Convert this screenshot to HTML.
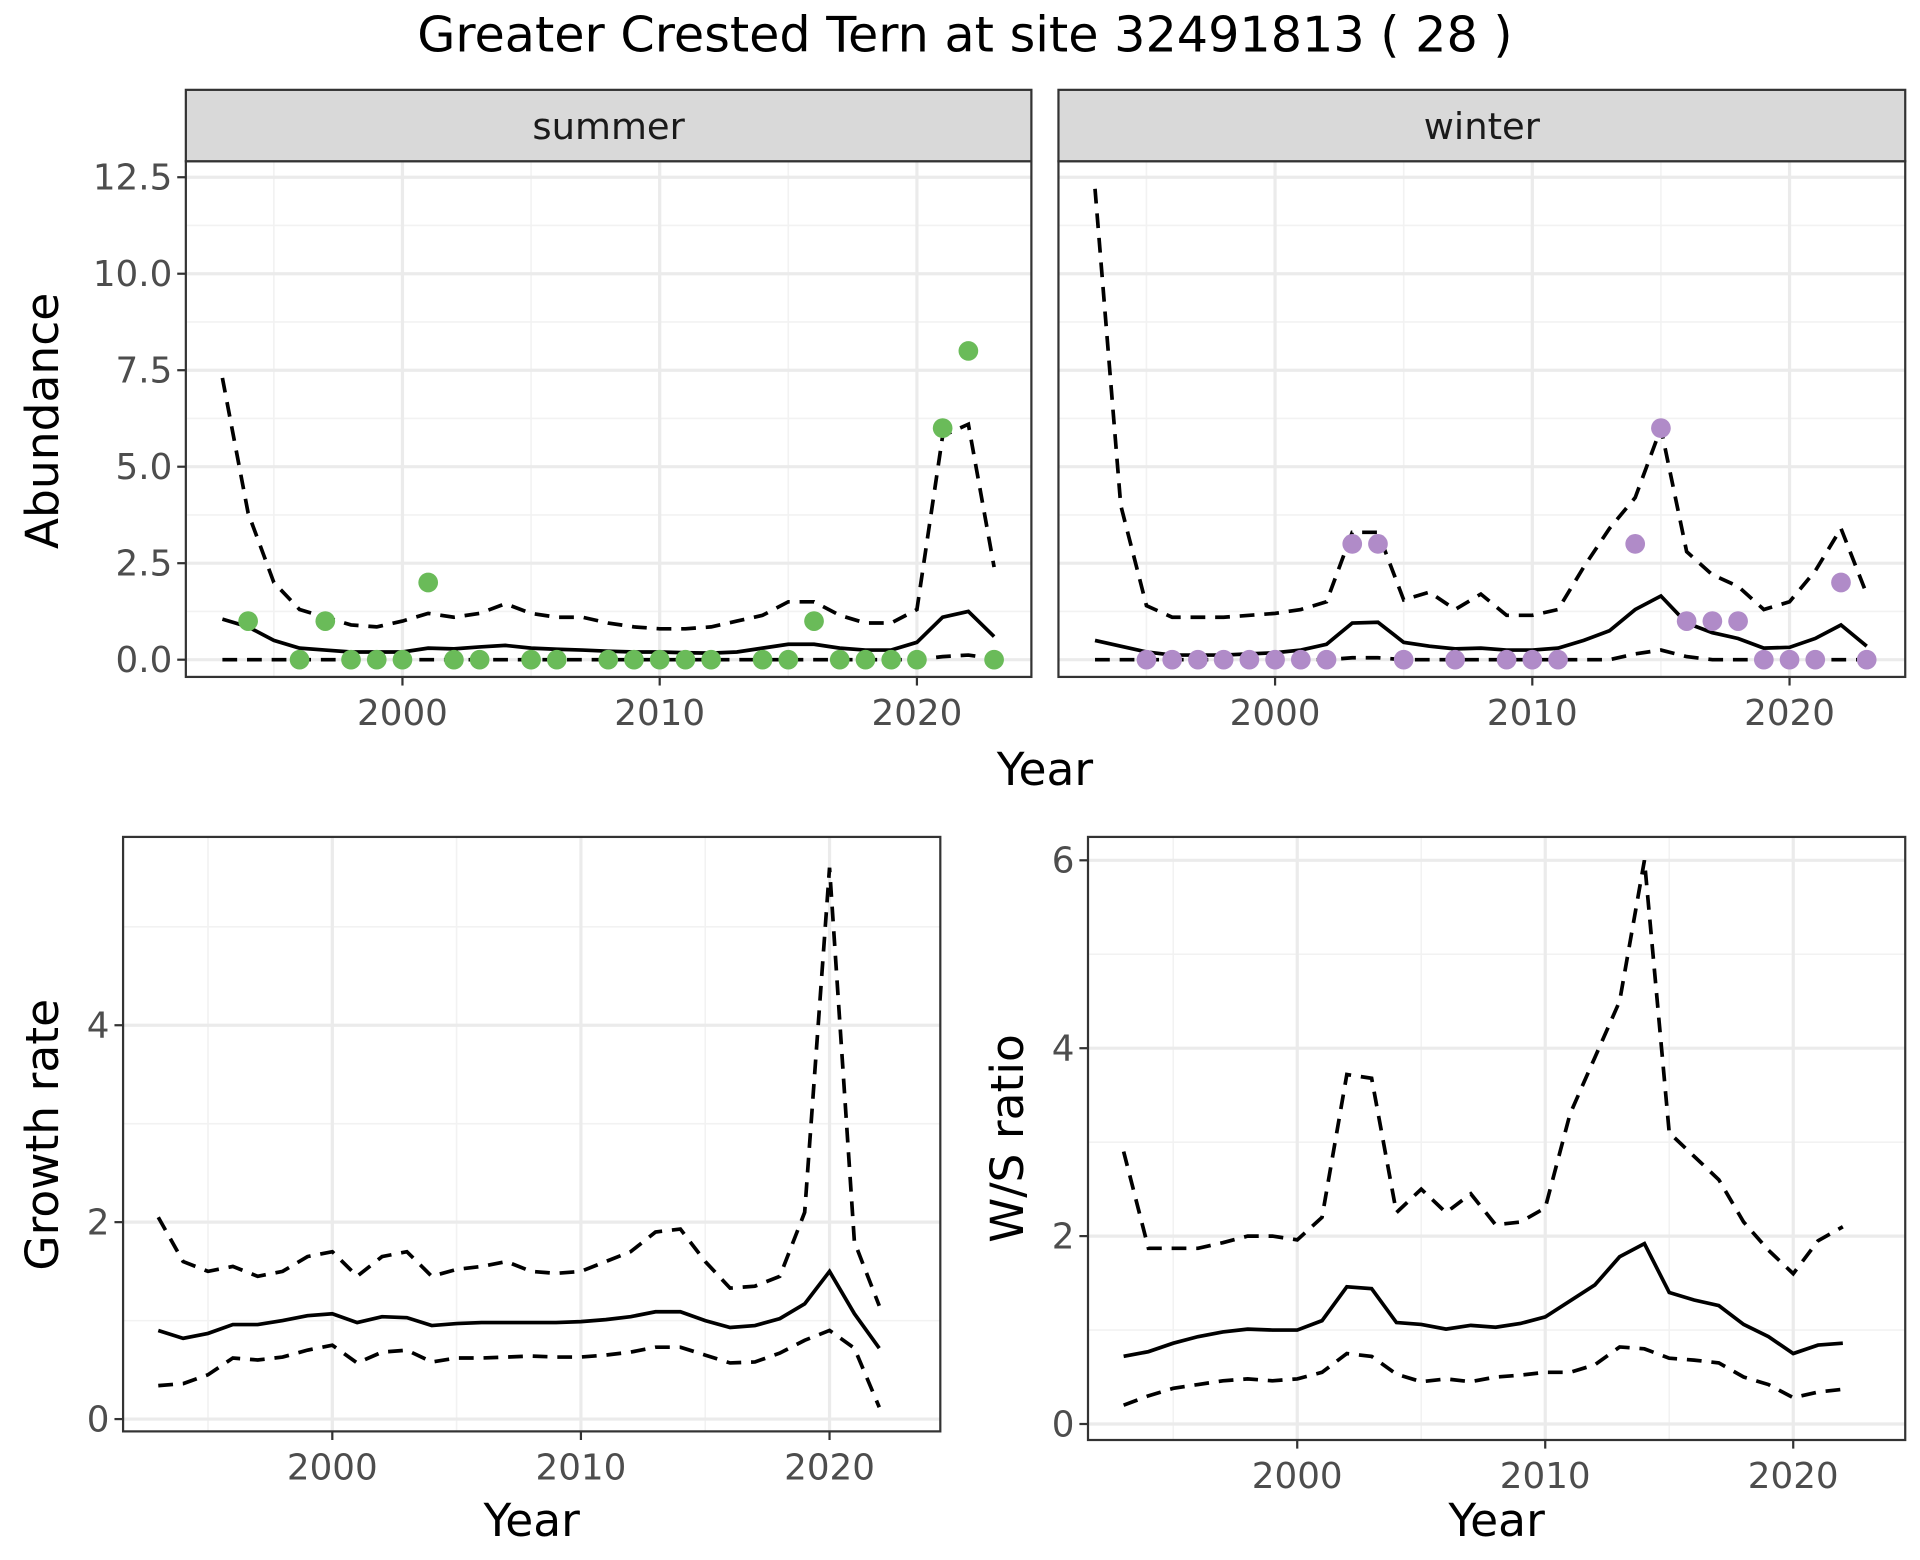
<!DOCTYPE html>
<html><head><meta charset="utf-8"><style>
html,body{margin:0;padding:0;background:#fff;}
svg{display:block;font-family:"DejaVu Sans","Liberation Sans",sans-serif;}
</style></head><body>
<svg id="chart" width="1920" height="1560" viewBox="0 0 1560 1267.5" preserveAspectRatio="none" xmlns="http://www.w3.org/2000/svg">
<text x="784" y="42" font-size="40" text-anchor="middle" fill="#000">Greater Crested Tern at site 32491813 ( 28 )</text>
</svg>
<script>
const yearsA = [1993,1994,1995,1996,1997,1998,1999,2000,2001,2002,2003,2004,2005,2006,2007,2008,2009,2010,2011,2012,2013,2014,2015,2016,2017,2018,2019,2020,2021,2022,2023];
const summerMean = [1.05,0.85,0.5,0.3,0.25,0.2,0.2,0.2,0.3,0.28,0.33,0.37,0.3,0.27,0.25,0.22,0.2,0.2,0.18,0.17,0.2,0.3,0.4,0.4,0.3,0.25,0.25,0.45,1.1,1.25,0.6];
const summerUpper = [7.3,3.8,2.0,1.3,1.1,0.9,0.85,1.0,1.2,1.1,1.2,1.45,1.2,1.1,1.1,0.95,0.85,0.8,0.8,0.85,1.0,1.15,1.5,1.5,1.15,0.95,0.95,1.3,5.8,6.1,2.4];
const summerLower = [0,0,0,0,0,0,0,0,0,0,0,0,0,0,0,0,0,0,0,0,0,0,0,0,0,0,0,0,0.08,0.12,0.02];
const summerPtYears = [1994,1996,1997,1998,1999,2000,2001,2002,2003,2005,2006,2008,2009,2010,2011,2012,2014,2015,2016,2017,2018,2019,2020,2021,2022,2023];
const summerPtVals = [1,0,1,0,0,0,2,0,0,0,0,0,0,0,0,0,0,0,1,0,0,0,0,6,8,0];
const winterMean = [0.5,0.35,0.2,0.12,0.12,0.12,0.15,0.18,0.25,0.4,0.95,0.97,0.45,0.35,0.28,0.3,0.25,0.25,0.3,0.5,0.75,1.3,1.65,0.95,0.7,0.55,0.3,0.32,0.55,0.9,0.35];
const winterUpper = [12.2,4.0,1.4,1.1,1.1,1.1,1.15,1.2,1.3,1.5,3.3,3.3,1.55,1.75,1.3,1.7,1.15,1.15,1.3,2.4,3.4,4.2,6.0,2.8,2.2,1.9,1.3,1.5,2.3,3.4,1.7];
const winterLower = [0,0,0,0,0,0,0,0,0,0,0.05,0.05,0,0,0,0,0,0,0,0,0,0.15,0.25,0.08,0,0,0,0,0,0,0];
const winterPtYears = [1995,1996,1997,1998,1999,2000,2001,2002,2003,2004,2005,2007,2009,2010,2011,2014,2015,2016,2017,2018,2019,2020,2021,2022,2023];
const winterPtVals = [0,0,0,0,0,0,0,0,3,3,0,0,0,0,0,3,6,1,1,1,0,0,0,2,0];
const yearsB = [1993,1994,1995,1996,1997,1998,1999,2000,2001,2002,2003,2004,2005,2006,2007,2008,2009,2010,2011,2012,2013,2014,2015,2016,2017,2018,2019,2020,2021,2022];
const growthMean = [0.9,0.82,0.87,0.96,0.96,1.0,1.05,1.07,0.98,1.04,1.03,0.95,0.97,0.98,0.98,0.98,0.98,0.99,1.01,1.04,1.09,1.09,1.0,0.93,0.95,1.02,1.17,1.5,1.07,0.72];
const growthUpper = [2.05,1.6,1.5,1.55,1.45,1.5,1.65,1.7,1.45,1.65,1.7,1.45,1.52,1.55,1.6,1.5,1.48,1.5,1.6,1.7,1.9,1.93,1.6,1.33,1.35,1.45,2.1,5.6,1.8,1.15];
const growthLower = [0.34,0.36,0.45,0.62,0.6,0.63,0.7,0.75,0.57,0.68,0.7,0.58,0.62,0.62,0.63,0.64,0.63,0.63,0.65,0.68,0.73,0.73,0.65,0.57,0.58,0.67,0.8,0.9,0.72,0.12];
const ratioMean = [0.72,0.77,0.86,0.93,0.98,1.01,1.0,1.0,1.1,1.46,1.44,1.08,1.06,1.01,1.05,1.03,1.07,1.14,1.31,1.48,1.78,1.92,1.4,1.32,1.26,1.06,0.93,0.75,0.84,0.86];
const ratioUpper = [2.9,1.87,1.87,1.87,1.93,2.0,2.0,1.96,2.2,3.72,3.68,2.25,2.5,2.25,2.45,2.12,2.15,2.3,3.3,3.9,4.5,6.0,3.1,2.85,2.6,2.15,1.85,1.6,1.95,2.1];
const ratioLower = [0.2,0.3,0.38,0.42,0.46,0.48,0.46,0.48,0.55,0.75,0.72,0.53,0.45,0.48,0.45,0.5,0.52,0.55,0.55,0.63,0.82,0.8,0.7,0.68,0.65,0.5,0.42,0.28,0.34,0.37];
const xTicks = [2000,2010,2020];
const xMinor = [1995,2005,2015];
const abTicks = [0,2.5,5,7.5,10,12.5];
const abTickLabels = ["0.0","2.5","5.0","7.5","10.0","12.5"];
const abMinor = [1.25,3.75,6.25,8.75,11.25];
const grTicks = [0,2,4];
const grMinor = [1,3,5];
const raTicks = [0,2,4,6];
const raMinor = [1,3,5];

const NS = "http://www.w3.org/2000/svg";
const svg = document.getElementById('chart');
function mk(tag, attrs, parent){const e=document.createElementNS(NS,tag);for(const k in attrs)e.setAttribute(k,attrs[k]);(parent||svg).appendChild(e);return e;}

function panel(o){
  const g = mk('g',{});
  
  
  const sx = v => o.x0 + (v-o.xa)*(o.x1-o.x0)/(o.xb-o.xa);
  const sy = v => o.y0 + (v-o.ya)*(o.y1-o.y0)/(o.yb-o.ya);
  mk('rect',{x:o.L,y:o.T,width:o.R-o.L,height:o.B-o.T,fill:'#fff'},g);
  o.yMinor.forEach(v=>mk('line',{x1:o.L,x2:o.R,y1:sy(v),y2:sy(v),stroke:'#f2f2f2','stroke-width':1.3},g));
  xMinor.forEach(v=>mk('line',{x1:sx(v),x2:sx(v),y1:o.T,y2:o.B,stroke:'#f2f2f2','stroke-width':1.3},g));
  o.yTicks.forEach(v=>mk('line',{x1:o.L,x2:o.R,y1:sy(v),y2:sy(v),stroke:'#ebebeb','stroke-width':2.6},g));
  xTicks.forEach(v=>mk('line',{x1:sx(v),x2:sx(v),y1:o.T,y2:o.B,stroke:'#ebebeb','stroke-width':2.6},g));
  const line=(xs,ys,dash,nm)=>{const p=mk('polyline',{points:xs.map((x,i)=>sx(x)+','+sy(ys[i])).join(' '),fill:'none',stroke:'#000','stroke-width':3,'stroke-dasharray':dash?'12,8':'none'},g);
    
    };
  o.series.forEach(s=>line(o.xs,s.v,s.dash,s.name));
  if(o.pts){o.pts.y.forEach((yr,i)=>{const c=mk('circle',{cx:sx(yr),cy:sy(o.pts.v[i]),r:8,fill:o.pts.col},g);
    
    });}
  mk('rect',{x:o.L,y:o.T,width:o.R-o.L,height:o.B-o.T,fill:'none',stroke:'#333','stroke-width':1.8},g);
  xTicks.forEach(v=>{mk('line',{x1:sx(v),x2:sx(v),y1:o.B,y2:o.B+7,stroke:'#333','stroke-width':1.8},g);
    const t=mk('text',{x:sx(v),y:o.B+39,'font-size':29,'text-anchor':'middle',fill:'#4d4d4d'},g);t.textContent=v;
    
    });
  if(o.yLabels){o.yTicks.forEach((v,i)=>{mk('line',{x1:o.L-7,x2:o.L,y1:sy(v),y2:sy(v),stroke:'#333','stroke-width':1.8},g);
    const t=mk('text',{x:o.L-11,y:sy(v)+10,'font-size':29,'text-anchor':'end',fill:'#4d4d4d'},g);t.textContent=o.yLabels[i];
    
    });}
  if(o.strip){const r=mk('rect',{x:o.L,y:73,width:o.R-o.L,height:58,fill:'#d9d9d9',stroke:'#333','stroke-width':1.8},g);
    
    
    const t=mk('text',{x:(o.L+o.R)/2,y:113,'font-size':30,'text-anchor':'middle',fill:'#1a1a1a'},g);t.textContent=o.strip;
    
    }
}
function label(txt,x,y,rot,nm){const t=mk('text',{x:x,y:y,'font-size':37,'text-anchor':'middle',fill:'#000',transform:rot?`rotate(-90 ${x} ${y})`:''});t.textContent=txt;
  
  }

panel({name:'summer-panel',L:151,R:838,T:131,B:550,x0:327,x1:745,xa:2000,xb:2020,y0:536,y1:144,ya:0,yb:12.5,
  yTicks:abTicks,yLabels:abTickLabels,yMinor:abMinor,xs:yearsA,strip:'summer',
  series:[{v:summerUpper,dash:true,name:'summer-upper-ci'},{v:summerLower,dash:true,name:'summer-lower-ci'},{v:summerMean,dash:false,name:'summer-mean'}],
  pts:{y:summerPtYears,v:summerPtVals,col:'#6abb59'}});
panel({name:'winter-panel',L:860,R:1548,T:131,B:550,x0:1036,x1:1454,xa:2000,xb:2020,y0:536,y1:144,ya:0,yb:12.5,
  yTicks:abTicks,yLabels:null,yMinor:abMinor,xs:yearsA,strip:'winter',
  series:[{v:winterUpper,dash:true,name:'winter-upper-ci'},{v:winterLower,dash:true,name:'winter-lower-ci'},{v:winterMean,dash:false,name:'winter-mean'}],
  pts:{y:winterPtYears,v:winterPtVals,col:'#b08bc8'}});
panel({name:'growth-rate-panel',L:100,R:764,T:680,B:1163,x0:270,x1:674,xa:2000,xb:2020,y0:1153,y1:833,ya:0,yb:4,
  yTicks:grTicks,yLabels:['0','2','4'],yMinor:grMinor,xs:yearsB,
  series:[{v:growthUpper,dash:true,name:'growth-upper-ci'},{v:growthLower,dash:true,name:'growth-lower-ci'},{v:growthMean,dash:false,name:'growth-mean'}]});
panel({name:'ws-ratio-panel',L:884,R:1548,T:680,B:1170,x0:1054,x1:1457,xa:2000,xb:2020,y0:1157,y1:699,ya:0,yb:6,
  yTicks:raTicks,yLabels:['0','2','4','6'],yMinor:raMinor,xs:yearsB,
  series:[{v:ratioUpper,dash:true,name:'ratio-upper-ci'},{v:ratioLower,dash:true,name:'ratio-lower-ci'},{v:ratioMean,dash:false,name:'ratio-mean'}]});
label('Abundance',47,342,true,'y-axis-title-abundance');
label('Year',849,638,false,'x-axis-title-top');
label('Growth rate',47,922,true,'y-axis-title-growth');
label('Year',432,1248,false,'x-axis-title-bottom-left');
label('W/S ratio',831,925,true,'y-axis-title-ratio');
label('Year',1216,1248,false,'x-axis-title-bottom-right');
</script>
</body></html>
